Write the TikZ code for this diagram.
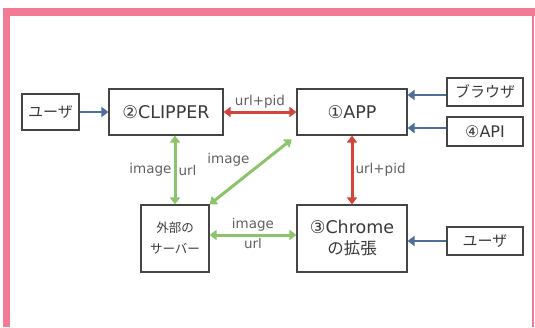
\documentclass[tikz,border=0pt]{standalone}
\usepackage{fontspec}
\setmainfont{DejaVu Sans}
\newfontfamily\jp{Noto Sans CJK JP}
\usetikzlibrary{arrows.meta}
\definecolor{pinkline}{HTML}{F27A95}
\definecolor{bluearr}{HTML}{4E6E9E}
\definecolor{redarr}{HTML}{D5443A}
\definecolor{greenarr}{HTML}{8CC46B}
\definecolor{boxline}{HTML}{454545}
\definecolor{txt}{HTML}{3A3A3A}

\begin{document}
\begin{tikzpicture}[thick,
    box/.style={draw=boxline,line width=1.1pt,inner sep=0pt,text=txt,align=center,font=\fontsize{17.5}{21}\selectfont},
    jpbox/.style={box,font=\jp\fontsize{15}{21}\selectfont},
    lbl/.style={text=txt!80,inner sep=2pt,font=\fontsize{13.5}{16}\selectfont},
    bluearrow/.style={bluearr,line width=2.8pt,-{Triangle[length=7pt,width=10pt]}},
    dblarrow/.style={line width=3pt,{Triangle[length=7pt,width=10pt]}-{Triangle[length=7pt,width=10pt]}}]
    \def\U{*1pt}
    \useasboundingbox (0,0) rectangle (535\U,-327\U);
    % 粉色边框
    \fill[pinkline] (3\U,-8\U) rectangle (535\U,-16\U);
    \fill[pinkline] (3\U,-8\U) rectangle (10\U,-327\U);
    \draw[pinkline,line width=1.5pt] (533\U,-16\U) -- (533\U,-327\U);
    % 各个方框
    \node[jpbox,minimum width=57\U,minimum height=36\U] (user1) at (50.5\U,-112\U) {ユーザ};
    \node[box,minimum width=114\U,minimum height=46\U] (clipper) at (166\U,-112\U) {②CLIPPER};
    \node[box,minimum width=110\U,minimum height=46\U] (app) at (352\U,-112\U) {①APP};
    \node[jpbox,minimum width=76\U,minimum height=28\U] (browser) at (485\U,-92\U) {ブラウザ};
    \node[box,font=\fontsize{16}{19}\selectfont,minimum width=76\U,minimum height=29\U] (api) at (485\U,-131.5\U) {④API};
    \node[jpbox,font=\jp\fontsize{12.5}{21}\selectfont,minimum width=68\U,minimum height=67\U] (server) at (175\U,-238.5\U) {外部の\\サーバー};
    \node[box,minimum width=110\U,minimum height=67\U] (chrome) at (352\U,-238.5\U) {③Chrome\\{\jp\fontsize{16.5}{21}\selectfont の拡張}};
    \node[jpbox,minimum width=76\U,minimum height=28\U] (user2) at (485\U,-241\U) {ユーザ};
    % 箭头
    \draw[bluearrow] (user1) -- (clipper);
    \draw[bluearrow] ([yshift=-3\U]browser.west) -- ([yshift=-3\U]browser.west -| app.east);
    \draw[bluearrow] ([yshift=3.5\U]api.west) -- ([yshift=3.5\U]api.west -| app.east);
    \draw[bluearrow] (user2.west) -- (user2.west -| chrome.east);
    \draw[redarr,dblarrow] (clipper) -- node[lbl,above]{url+pid} (app);
    \draw[redarr,dblarrow] (app) -- node[lbl,right]{url+pid} (chrome);
    \draw[greenarr,dblarrow] (server.north |- clipper.south) -- node[lbl,left]{image} node[lbl,right]{url} (server.north);
    \draw[greenarr,dblarrow,shorten >=6pt] (server.north east) -- node[lbl,above left,pos=0.5]{image} (app.south west);
    \draw[greenarr,dblarrow] ([yshift=3.5\U]server.east) -- node[lbl,above]{image} node[lbl,below]{url} ([yshift=3.5\U]server.east -| chrome.west);
  \end{tikzpicture}
\end{document}
